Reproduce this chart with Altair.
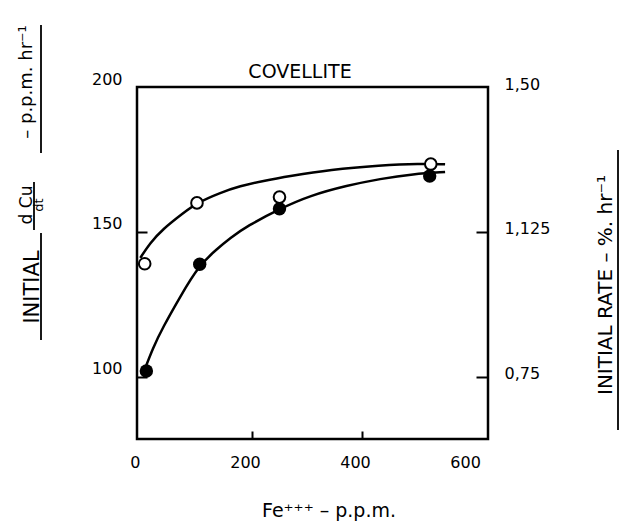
import altair as alt
import pandas as pd

# ---- data ----
x_ticks = [0, 200, 400, 600]
y_ticks = [100, 150, 200]
rate_ticks = [0.75, 1.125, 1.5]
rate_labels = ["0,75", "1,125", "1,50"]

open_x = [5, 100, 250, 525]
open_y = [139, 160, 162, 173.4]
filled_x = [8, 105, 250, 523]
filled_y = [102, 138.8, 158, 169.3]

open_curve_x = [-3, 14, 38, 75, 100, 142, 178, 220, 269, 342, 433, 505, 551]
open_curve_y = [141, 146, 151, 156.5, 160, 163.5, 165.8, 167.6, 169.3, 171.5, 173, 173.6, 173.3]
filled_curve_x = [2, 20, 38, 69, 104, 136, 160, 191, 251, 305, 373, 433, 493, 551]
filled_curve_y = [101, 110, 117, 127.5, 138.5, 144, 147.8, 152, 158, 162.5, 166, 168.3, 170, 170.7]

FONT = "DejaVu Sans"
W, H = 351, 352

xscale = alt.Scale(domain=[-9, 629], nice=False, zero=False)
yscale = alt.Scale(domain=[78.5, 200], nice=False, zero=False)
rscale = alt.Scale(domain=[78.5 * 0.0075, 1.5], nice=False, zero=False)

x_axis = alt.Axis(values=x_ticks, offset=-8, tickSize=8, domain=False, grid=False, title=None,
                  labelPadding=15, labelOffset=-7, labelFont=FONT, labelFontSize=16, labelColor="black",
                  tickColor="black", tickWidth=2, labelFlush=False, labelOverlap=False,
                  tickOpacity={"condition": {"test": "datum.value == 200 || datum.value == 400", "value": 1}, "value": 0})
y_axis = alt.Axis(values=y_ticks, offset=-10, tickSize=10, domain=False, grid=False, title=None,
                  labelPadding=15, labelOffset=-8, labelFont=FONT, labelFontSize=16, labelColor="black",
                  tickColor="black", tickWidth=2, labelFlush=False, labelOverlap=False,
                  tickOpacity={"condition": {"test": "datum.value < 190", "value": 1}, "value": 0})
label_expr = " : ".join(
    [f"datum.value == {v} ? '{l}'" for v, l in zip(rate_ticks[:-1], rate_labels[:-1])] + [f"'{rate_labels[-1]}'"]
)
r_axis = alt.Axis(orient="right", values=rate_ticks, offset=-12, tickSize=12, domain=False, grid=False,
                  title=None, labelPadding=16, labelOffset=-3, labelFont=FONT, labelFontSize=16,
                  labelColor="black", tickColor="black", tickWidth=2, labelFlush=False, labelOverlap=False,
                  labelExpr=label_expr,
                  tickOpacity={"condition": {"test": "datum.value < 1.4", "value": 1}, "value": 0})

curves = pd.DataFrame({
    "x": open_curve_x + filled_curve_x,
    "y": open_curve_y + filled_curve_y,
    "series": ["open"] * len(open_curve_x) + ["filled"] * len(filled_curve_x),
})
open_df = pd.DataFrame({"x": open_x, "y": open_y})
filled_df = pd.DataFrame({"x": filled_x, "y": filled_y})

X = alt.X("x:Q", scale=xscale, axis=x_axis)
Y = alt.Y("y:Q", scale=yscale, axis=y_axis)

lines = alt.Chart(curves).mark_line(color="black", strokeWidth=2.5, interpolate="basis").encode(
    x=X, y=Y, detail="series:N")
filled_pts = alt.Chart(filled_df).mark_circle(color="black", size=180, opacity=1).encode(x=X, y=Y)
open_pts = alt.Chart(open_df).mark_point(shape="circle", filled=True, fill="white", stroke="black",
                                          strokeWidth=2, size=135, opacity=1).encode(x=X, y=Y)


def label(text, x, y, size=15, angle=0, align="center", baseline="middle"):
    return alt.Chart(pd.DataFrame({"t": [text]})).mark_text(
        font=FONT, fontSize=size, angle=angle, align=align, baseline=baseline, color="black"
    ).encode(text="t:N", x=alt.value(x), y=alt.value(y))


def vline(x, y1, y2, width=1.8):
    return alt.Chart(pd.DataFrame({"a": [0]})).mark_rule(color="black", strokeWidth=width).encode(
        x=alt.value(x), y=alt.value(y1), y2=alt.value(y2))


texts = [
    label("COVELLITE", 163, -15, size=19),
    label("Fe\u207a\u207a\u207a \u2013 p.p.m.", 192, 430, size=19, baseline="alphabetic"),
    label("INITIAL", -98, 200, size=21, angle=270, baseline="alphabetic"),
    label("d Cu", -105, 118, size=17, angle=270, baseline="alphabetic"),
    label("dt", -94, 118, size=13, angle=270, baseline="alphabetic"),
    label("\u2013 p.p.m. hr\u207b\u00b9", -105, -5, size=18, angle=270, baseline="alphabetic"),
    label("INITIAL RATE \u2013 %. hr\u207b\u00b9", 475, 198, size=20, angle=270, baseline="alphabetic"),
]
rules = [
    vline(-96, 146, 253),
    vline(-103, 95, 143),
    vline(-96, -62, 66),
    vline(481, 63, 343),
]

right_dummy = alt.Chart(pd.DataFrame({"rate": rate_ticks})).mark_point(opacity=0).encode(
    y=alt.Y("rate:Q", scale=rscale, axis=r_axis))

main = alt.layer(lines, filled_pts, open_pts, *texts, *rules)

chart = alt.layer(main, right_dummy).resolve_scale(y="independent").properties(
    width=W, height=H,
    autosize=alt.AutoSizeParams(type="none"),
    padding={"left": 137, "top": 87, "right": 132, "bottom": 85},
    background="white",
).configure_view(stroke="black", strokeWidth=2.5)

chart.save("out.html", embed_options={"renderer": "svg", "actions": False})
